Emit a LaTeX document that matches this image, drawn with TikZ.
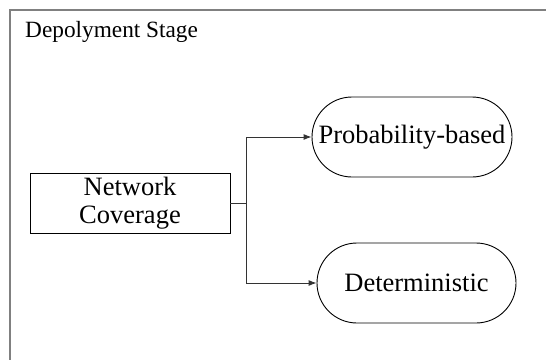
\documentclass[tikz,border=0pt]{standalone}
\usepackage{fontspec}
\setmainfont{Liberation Serif}
\usetikzlibrary{arrows.meta}
\begin{document}
\begin{tikzpicture}[x=1pt,y=-1pt,
  txt/.style={font=\fontsize{26.5}{28}\selectfont, align=center, inner sep=0pt},
  box/.style={txt, draw=black, line width=0.9pt, rectangle},
  pill/.style={txt, draw=black, line width=0.9pt, rectangle, rounded corners=40pt},
  link/.style={draw=black!80, line width=0.9pt},
  tip/.style={-{Latex[length=8pt,width=6pt]}}]
\useasboundingbox (0,0) rectangle (546,359);
\clip (0,0) rectangle (546,359);
% stage frame (continues past the right and bottom edges)
\draw[draw=black!50, line width=2pt] (10,9.5) rectangle (570,380);
\node[font=\fontsize{23.3}{26}\selectfont, anchor=base west, inner sep=0pt] (title) at (25,37) {Depolyment Stage};
% nodes
\node[box, minimum width=200pt, minimum height=60pt] (nc) at (130,203) {Network\\Coverage};
\node[pill, minimum width=200pt, minimum height=80pt] (pb) at (412,137) {Probability-based};
\node[pill, minimum width=199pt, minimum height=80pt] (dt) at (416.5,283) {Deterministic};
% connectors
\coordinate (j) at ([xshift=16pt]nc.east);
\draw[link] (nc.east) -- (j);
\draw[link, tip] (j) |- (pb.west);
\draw[link, tip] (j) |- (dt.west);
\end{tikzpicture}
\end{document}
